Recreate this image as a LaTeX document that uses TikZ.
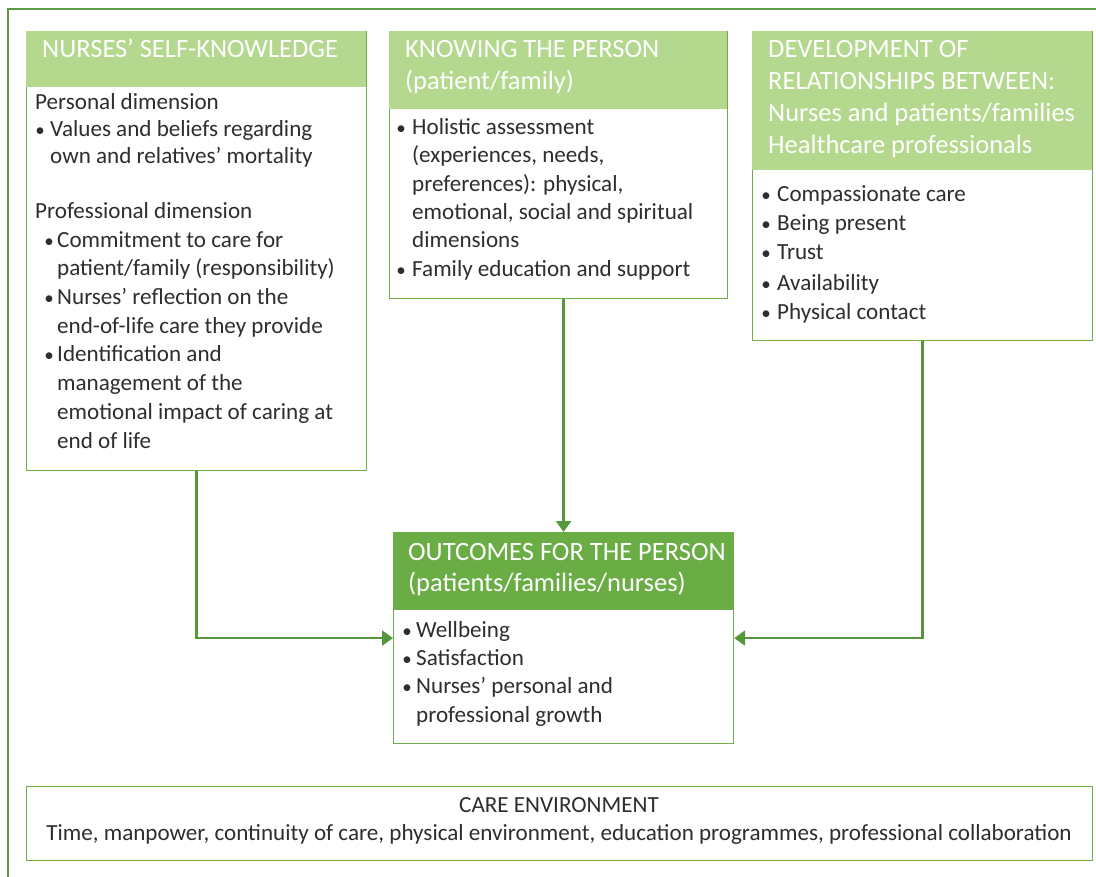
\documentclass[tikz,border=0pt]{standalone}
\usepackage{fontspec}
\setmainfont{Carlito}
\usetikzlibrary{arrows.meta}
\definecolor{hdrlight}{HTML}{B5D88F}
\definecolor{hdrdark}{HTML}{6BAD45}
\definecolor{boxline}{HTML}{70AD47}
\definecolor{arrowcol}{HTML}{55983C}
\definecolor{framecol}{HTML}{5C9C48}
\definecolor{txtcol}{HTML}{2E2E2E}
\tikzset{
  boxbody/.style={draw=boxline, line width=1.2pt, fill=white},
  hdrbox/.style={fill=hdrlight},
  hdrboxdark/.style={fill=hdrdark},
  txt/.style={inner sep=0pt, anchor=base west, text=txtcol, font=\fontsize{23.1}{28.7}\selectfont},
  bul/.style={inner sep=0pt, anchor=base, text=txtcol, font=\fontsize{19}{20}\selectfont},
  htxt/.style={inner sep=0pt, anchor=base west, text=white, font=\fontsize{26.5}{31.7}\selectfont},
  ctxt/.style={inner sep=0pt, anchor=base, text=txtcol, font=\fontsize{23.1}{28.7}\selectfont},
  conn/.style={draw=arrowcol, line width=2.4pt, -{Triangle[width=15pt,length=11pt]}},
  framel/.style={draw=framecol, line width=1.3pt}
}
\newcommand{\bul}{\textbullet}
\begin{document}
\begin{tikzpicture}[x=1pt,y=-1pt]
\useasboundingbox (0,0) rectangle (1096,877);
% outer frame (top and left)
\draw[framel] (1096,9) -- (8,9) -- (8,877);

% Box 1
\node[boxbody, minimum width=340pt, minimum height=439pt, inner sep=0pt, anchor=north west] (b1) at (26,31) {};
\node[hdrbox, minimum width=340pt, minimum height=56pt, inner sep=0pt, anchor=north west] (h1) at (26,31) {};
\node[htxt] (h1t) at (42,58) {NURSES’ SELF-KNOWLEDGE};
\node[txt] (t101) at (35,110) {Personal dimension};
\node[bul] (t102) at (40,137) {\bul};
\node[txt] (t103) at (50,137) {Values and beliefs regarding};
\node[txt] (t104) at (50,164) {own and relatives’ mortality};
\node[txt] (t105) at (35,219) {Professional dimension};
\node[bul] (t106) at (49,248) {\bul};
\node[txt] (t107) at (57,248) {Commitment to care for};
\node[txt] (t108) at (57,276) {patient/family (responsibility)};
\node[bul] (t109) at (49,305) {\bul};
\node[txt] (t110) at (57,305) {Nurses’ reflection on the};
\node[txt] (t111) at (57,334) {end-of-life care they provide};
\node[bul] (t112) at (49,362) {\bul};
\node[txt] (t113) at (57,362) {Identification and};
\node[txt] (t114) at (57,391) {management of the};
\node[txt] (t115) at (57,420) {emotional impact of caring at};
\node[txt] (t116) at (57,449) {end of life};

% Box 2
\node[boxbody, minimum width=338pt, minimum height=267pt, inner sep=0pt, anchor=north west] (b2) at (389,31) {};
\node[hdrbox, minimum width=338pt, minimum height=78pt, inner sep=0pt, anchor=north west] (h2) at (389,31) {};
\node[htxt] (h2a) at (405,58) {KNOWING THE PERSON};
\node[htxt] (h2b) at (405,89.7) {(patient/family)};
\node[bul] (t201) at (401,135) {\bul};
\node[txt] (t202) at (412,135) {Holistic assessment};
\node[txt] (t203) at (412,163) {(experiences, needs,};
\node[txt] (t204) at (412,192) {preferences): physical,};
\node[txt] (t205) at (412,220) {emotional, social and spiritual};
\node[txt] (t206) at (412,248) {dimensions};
\node[bul] (t207) at (401,277) {\bul};
\node[txt] (t208) at (412,277) {Family education and support};

% Box 3
\node[boxbody, minimum width=340pt, minimum height=309pt, inner sep=0pt, anchor=north west] (b3) at (752,31) {};
\node[hdrbox, minimum width=340pt, minimum height=139pt, inner sep=0pt, anchor=north west] (h3) at (752,31) {};
\node[htxt] (h3a) at (768,58) {DEVELOPMENT OF};
\node[htxt] (h3b) at (768,89.7) {RELATIONSHIPS BETWEEN:};
\node[htxt] (h3c) at (768,121.4) {Nurses and patients/families};
\node[htxt] (h3d) at (768,153.1) {Healthcare professionals};
\node[bul] (t301) at (766,202) {\bul};
\node[txt] (t302) at (777,202) {Compassionate care};
\node[bul] (t303) at (766,231) {\bul};
\node[txt] (t304) at (777,231) {Being present};
\node[bul] (t305) at (766,260) {\bul};
\node[txt] (t306) at (777,260) {Trust};
\node[bul] (t307) at (766,291) {\bul};
\node[txt] (t308) at (777,291) {Availability};
\node[bul] (t309) at (766,320) {\bul};
\node[txt] (t310) at (777,320) {Physical contact};

% Outcomes
\node[boxbody, minimum width=340pt, minimum height=211pt, inner sep=0pt, anchor=north west] (out) at (393,532) {};
\node[hdrboxdark, minimum width=340pt, minimum height=78pt, inner sep=0pt, anchor=north west] (ho) at (393,532) {};
\node[htxt] (hoa) at (408,560) {OUTCOMES FOR THE PERSON};
\node[htxt] (hob) at (408,591.7) {(patients/families/nurses)};
\node[bul] (t401) at (407,637) {\bul};
\node[txt] (t402) at (416,637) {Wellbeing};
\node[bul] (t403) at (407,665) {\bul};
\node[txt] (t404) at (416,665) {Satisfaction};
\node[bul] (t405) at (407,693) {\bul};
\node[txt] (t406) at (416,693) {Nurses’ personal and};
\node[txt] (t407) at (416,722) {professional growth};

% Care environment
\node[boxbody, minimum width=1066pt, minimum height=74pt, inner sep=0pt, anchor=north west] (care) at (26,786) {};
\node[ctxt] (c1) at (559,812) {CARE ENVIRONMENT};
\node[ctxt] (c2) at (559,840) {Time, manpower, continuity of care, physical environment, education programmes, professional collaboration};

% Connectors
\draw[conn] (b1.south) |- (out.west);
\draw[conn] (b2.south -| out.north) -- (out.north);
\draw[conn] (b3.south) |- (out.east);
\end{tikzpicture}
\end{document}
